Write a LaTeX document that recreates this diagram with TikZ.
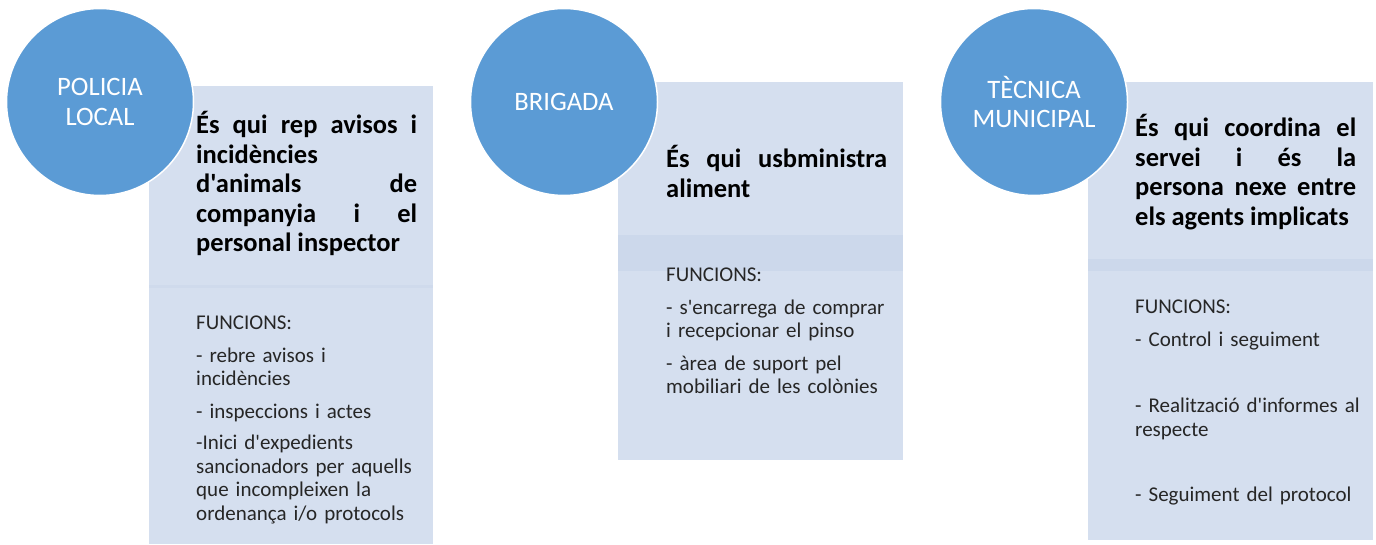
\documentclass[tikz,border=0pt]{standalone}
\usepackage{fontspec}
\setmainfont{Carlito}[Ligatures=TeXOff]
\definecolor{hubblue}{HTML}{5B9BD5}
\definecolor{panelblue}{HTML}{D5DFEF}
\definecolor{bandblue}{HTML}{CCD8EB}
\definecolor{textgray}{HTML}{262626}

\begin{document}
\begin{tikzpicture}[x=1pt, y=-1pt]
	\tikzstyle{hub} = [circle, fill=hubblue, draw=white, line width=1.5pt, minimum size=187pt, inner sep=0pt, text=white, align=center, font=\fontsize{26.6}{29.5}\selectfont]
	\tikzstyle{panel} = [rectangle, fill=panelblue, anchor=north west, inner sep=0pt]
	\tikzstyle{band} = [fill=bandblue]
	\tikzstyle{title} = [anchor=north west, inner sep=0pt, text width=221pt, align=justify, font=\fontsize{26.5}{29.5}\selectfont\bfseries]
	\tikzstyle{tasks} = [anchor=north west, inner sep=0pt, text width=235pt, align=left, text=textgray, font=\fontsize{21}{23.5}\selectfont]

	\useasboundingbox (0,0) rectangle (1376,545);

	% panels and their bands
	\node [panel, minimum width=284pt, minimum height=458pt] (policiapanel) at (149,86) {};
	\node [panel, minimum width=285pt, minimum height=378pt] (brigadapanel) at (618,82) {};
	\node [panel, minimum width=285pt, minimum height=458pt] (tecnicapanel) at (1088,82) {};
	\fill [band, fill=bandblue!70!panelblue] (149,285) rectangle (433,288);
	\fill [band] (618,235) rectangle (903,271);
	\fill [band] (1088,259) rectangle (1373,271);

	% circles
	\node [hub] (policia) at (100,102) {POLICIA\\LOCAL};
	\node [hub] (brigada) at (564,102) {BRIGADA};
	\node [hub] (tecnica) at (1034,102) {TÈCNICA\\MUNICIPAL};

	% texts
	\node [title] (policiatitle) at (196,109.6) {\rule{0pt}{24pt}És qui rep avisos i\linebreak incidències\\ d'animals de\linebreak companyia i el\linebreak personal inspector};
	\node [title] (brigadatitle) at (666,143.6) {\rule{0pt}{24pt}És qui usbministra\linebreak aliment};
	\node [title] (tecnicatitle) at (1135,112.6) {\rule{0pt}{24pt}És qui coordina el\linebreak servei i és la\linebreak persona nexe entre\linebreak els agents implicats};

	\node [tasks] (policiatasks) at (196,313) {\strut FUNCIONS:\\[9pt] - rebre avisos i\\ incidències\\[9pt] - inspeccions i actes\\[8pt] -Inici d'expedients\\ sancionadors per aquells\\ que incompleixen la\\ ordenança i/o protocols};
	\node [tasks] (brigadatasks) at (666,265) {\strut FUNCIONS:\\[9pt] - s'encarrega de comprar\\ i recepcionar el pinso\\[9pt] - àrea de suport pel\\ mobiliari de les colònies};
	\node [tasks] (tecnicatasks) at (1135,297) {\strut FUNCIONS:\\[9pt] - Control i seguiment\\[43pt] - Realització d'informes al\\ respecte\\[42pt] - Seguiment del protocol};
\end{tikzpicture}
\end{document}
